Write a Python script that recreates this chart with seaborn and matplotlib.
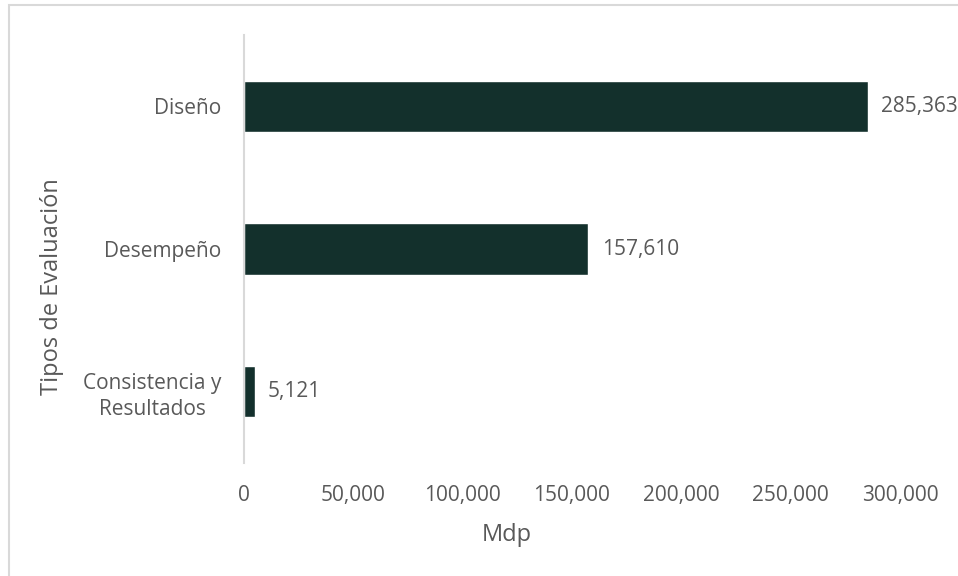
import matplotlib.pyplot as plt
import matplotlib.patches as patches
import seaborn as sns
import pandas as pd

categories = ["Diseño", "Desempeño", "Consistencia y\nResultados"]
values = [285363, 157610, 5121]
xticks = [0, 50000, 100000, 150000, 200000, 250000, 300000]

df = pd.DataFrame({"tipo": categories, "mdp": values})

sns.set_theme(style="white")
plt.rcParams["font.family"] = ["Open Sans", "DejaVu Sans"]
text_color = "#595959"

fig = plt.figure(figsize=(9.58, 5.76), dpi=100)
ax = fig.add_axes([0.2542, 0.1962, 0.9395 - 0.2542, 0.9392 - 0.1962])
sns.barplot(data=df, x="mdp", y="tipo", color="#13302c", width=0.36,
            saturation=1, ax=ax)

ax.set_xlim(0, 300000)
ax.set_ylim(2.5, -0.5)
ax.set_xticks(xticks)
ax.set_xticklabels([f"{t:,}" for t in xticks], fontsize=15, color=text_color)
ax.tick_params(axis="x", length=0, pad=16)
ax.tick_params(axis="y", labelsize=15, labelcolor=text_color, length=0, pad=16)
for lbl in ax.get_yticklabels():
    lbl.set_horizontalalignment("right")
    lbl.set_multialignment("center")
    lbl.set_linespacing(1.3)

ax.set_xlabel("Mdp", fontsize=17, color=text_color)
ax.xaxis.label.set_va("center")
ax.xaxis.set_label_coords(0.401, -0.168)
ax.set_ylabel("Tipos de Evaluación", fontsize=17, color=text_color)
ax.yaxis.label.set_va("center")
ax.yaxis.set_label_coords(-0.291, 0.411)

sns.despine(ax=ax, top=True, right=True, bottom=True, left=False)
ax.spines["left"].set_color("#d9d9d9")
ax.spines["left"].set_linewidth(1.5)

for i, v in enumerate(values):
    ax.annotate(f"{v:,}", xy=(v, i), xytext=(9.5, 0), textcoords="offset points",
                fontsize=15, color=text_color, va="center", ha="left")

fig.patches.append(patches.Rectangle((9 / 958, -0.01), 1.0, 1 - 5 / 576 + 0.01,
                                     transform=fig.transFigure, fill=False,
                                     edgecolor="#d9d9d9", linewidth=1.5))

fig.savefig("out.png", dpi=100)
